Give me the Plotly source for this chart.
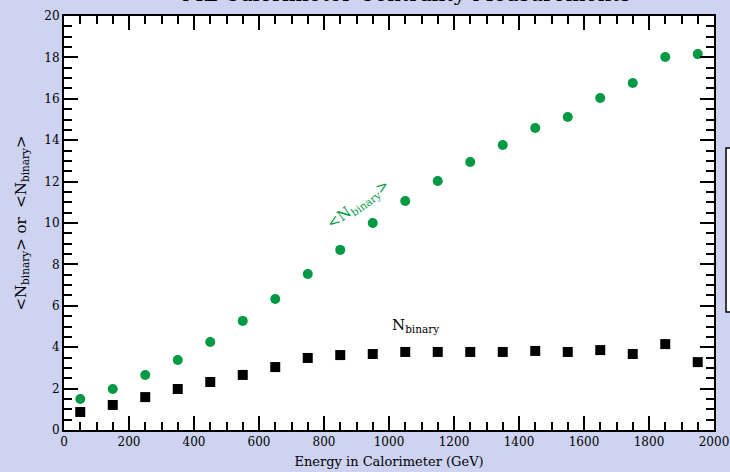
import plotly.graph_objects as go

energy = [50, 150, 250, 350, 450, 550, 650, 750, 850, 950,
          1050, 1150, 1250, 1350, 1450, 1550, 1650, 1750, 1850, 1950]
mean_nbinary = [1.5, 1.98, 2.66, 3.38, 4.25, 5.27, 6.33, 7.54, 8.7, 10.0,
                11.06, 12.03, 12.95, 13.77, 14.59, 15.12, 16.04, 16.76, 18.02, 18.16]
nbinary = [0.87, 1.21, 1.59, 1.98, 2.32, 2.66, 3.04, 3.48, 3.62, 3.67,
           3.77, 3.77, 3.77, 3.77, 3.82, 3.77, 3.86, 3.67, 4.15, 3.28]
x_ticks = [0, 200, 400, 600, 800, 1000, 1200, 1400, 1600, 1800, 2000]
y_ticks = [0, 2, 4, 6, 8, 10, 12, 14, 16, 18, 20]

FONT = "DejaVu Serif"
GREEN = "#009a44"

fig = go.Figure()
fig.add_trace(go.Scatter(x=energy, y=mean_nbinary, mode="markers",
                         marker=dict(symbol="circle", size=10, color=GREEN),
                         showlegend=False))
fig.add_trace(go.Scatter(x=energy, y=nbinary, mode="markers",
                         marker=dict(symbol="square", size=10, color="black"),
                         showlegend=False))

axis_common = dict(showgrid=False, zeroline=False, showline=True, linecolor="black",
                   linewidth=2, mirror="ticks", ticks="inside", ticklen=14,
                   tickwidth=1.5, tickcolor="black", automargin=False,
                   ticklabeloverflow="allow",
                   tickfont=dict(family=FONT, size=12, color="black"))

fig.update_xaxes(range=[0, 2000], tickvals=x_ticks, ticktext=[str(v) for v in x_ticks],
                 minor=dict(ticks="inside", dtick=50, ticklen=8, tickwidth=1.5,
                            tickcolor="black"),
                 title=dict(text="Energy in Calorimeter (GeV)", standoff=8,
                            font=dict(family=FONT, size=13, color="black")),
                 **axis_common)
fig.update_yaxes(range=[0, 20], tickvals=y_ticks, ticktext=[str(v) for v in y_ticks],
                 minor=dict(ticks="inside", dtick=0.5, ticklen=8, tickwidth=1.5,
                            tickcolor="black"),
                 title=dict(text="&lt;N<sub>binary</sub>&gt; or  &lt;N<sub>binary</sub>&gt;",
                            standoff=14,
                            font=dict(family=FONT, size=15, color="black")),
                 **axis_common)

fig.add_annotation(x=905, y=10.9, xref="x", yref="y", showarrow=False,
                   text="&lt;N<sub>binary</sub>&gt;", textangle=-36,
                   font=dict(family=FONT, size=15, color=GREEN))
fig.add_annotation(x=1080, y=5.05, xref="x", yref="y", showarrow=False,
                   text="N<sub>binary</sub>",
                   font=dict(family=FONT, size=15, color="black"))

# chart title, mostly cut off above the top edge as in the reference
fig.add_annotation(x=0.526, y=1.053, xref="paper", yref="paper", showarrow=False,
                   xanchor="center", yanchor="middle",
                   text="ML Calorimeter Centrality Measurements",
                   font=dict(family=FONT, size=21, color="black"))

# partially visible legend box at right edge
fig.add_shape(type="rect", xref="paper", yref="paper", x0=1.0185, x1=1.08,
              y0=0.285, y1=0.681, fillcolor="white",
              line=dict(color="black", width=1.5), layer="above")

fig.update_layout(
    width=730, height=472,
    margin=dict(l=64, r=16, t=16, b=42, autoexpand=False),
    paper_bgcolor="#cdd3f1", plot_bgcolor="white",
)

fig.write_html("out.html", config={"displayModeBar": False},
               post_script="document.body.style.margin='0';document.body.style.overflow='hidden';")
